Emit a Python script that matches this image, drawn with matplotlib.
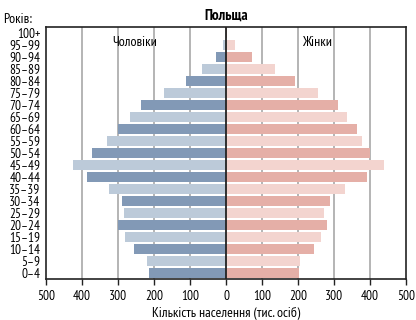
import matplotlib
matplotlib.use("Agg")
import matplotlib.pyplot as plt

plt.rcParams['font.family'] = ['PT Sans Narrow', 'DejaVu Sans']

ages = ["0–4", "5–9", "10–14", "15–19", "20–24", "25–29", "30–34", "35–39",
        "40–44", "45–49", "50–54", "55–59", "60–64", "65–69", "70–74",
        "75–79", "80–84", "85–89", "90–94", "95–99", "100+"]
male = [214, 219, 256, 281, 299, 283, 289, 325, 386, 425, 373, 331, 299,
        267, 236, 172, 111, 67, 28, 8, 1]
female = [203, 206, 244, 264, 281, 271, 289, 331, 392, 439, 400, 378, 364,
          335, 311, 255, 192, 136, 71, 25, 2]
xticks = [-500, -400, -300, -200, -100, 0, 100, 200, 300, 400, 500]
xticklabels = ["500", "400", "300", "200", "100", "0", "100", "200", "300", "400", "500"]

male_cols = ["#8299b6", "#bccad9"]
female_cols = ["#e5afa7", "#f3d4cf"]

fig = plt.figure(figsize=(4.16, 3.2), dpi=100)
ax = fig.add_axes([46/416, 1-279/320, 360/416, 252/320])

y = list(range(len(ages)))
ax.barh(y, [-m for m in male], height=0.86,
        color=[male_cols[i % 2] for i in y], zorder=2)
ax.barh(y, female, height=0.86,
        color=[female_cols[i % 2] for i in y], zorder=2)

for xv in [-400, -300, -200, -100, 100, 200, 300, 400]:
    ax.axvline(xv, color="#a8a8a8", lw=1.2, zorder=1)
ax.axvline(0, color="#222222", lw=1.3, zorder=3)

ax.set_xlim(-500, 500)
ax.set_ylim(-0.5, len(ages) - 0.5)
ax.set_xticks(xticks)
ax.set_xticklabels(xticklabels, fontsize=9.5)
ax.set_yticks(y)
ax.set_yticklabels(ages, fontsize=9.5)
ax.tick_params(axis='y', length=0, pad=4)
ax.tick_params(axis='x', length=4, width=1, color="#222222", pad=4)
for s in ax.spines.values():
    s.set_color("#222222")
    s.set_linewidth(1.2)

ax.set_xlabel("Кількість населення (тис. осіб)", fontsize=10, labelpad=3)
ax.set_title("Польща", fontsize=11, fontweight="bold", pad=5)
fig.text(3/416, 1-26/320, "Років:", fontsize=10, ha="left", va="bottom")
ax.text(-253, 19.25, "Чоловіки", fontsize=10, ha="center", va="center", zorder=4)
ax.text(252, 19.25, "Жінки", fontsize=10, ha="center", va="center", zorder=4)

fig.savefig("out.png", dpi=100)
